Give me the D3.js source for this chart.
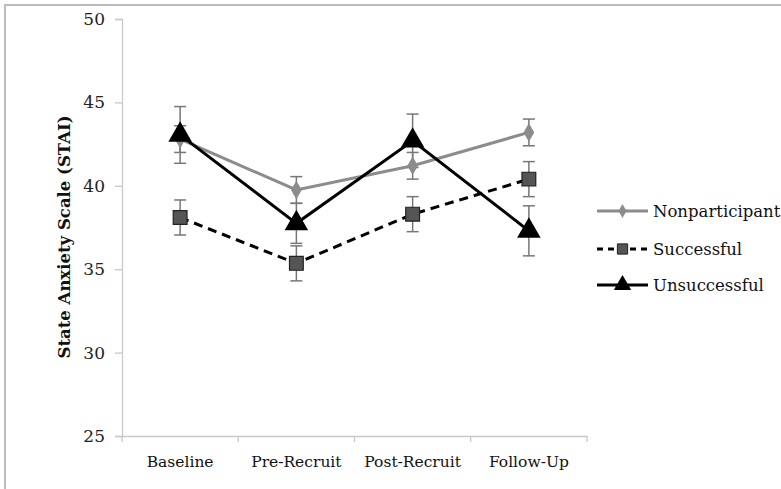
<!DOCTYPE html>
<html>
<head>
<meta charset="utf-8">
<script src="https://cdn.jsdelivr.net/npm/d3@7"></script>
<style>
  body { margin: 0; background: #fff; }
  text { font-family: "DejaVu Serif", "Liberation Serif", serif; }
</style>
</head>
<body>
<script>
// Datos
const categorias = ["Baseline", "Pre-Recruit", "Post-Recruit", "Follow-Up"];
const nonparticipant = [42.8, 39.75, 41.2, 43.2];
const nonparticipantErr = [0.8, 0.8, 0.8, 0.8];
const successful = [38.1, 35.35, 38.3, 40.4];
const successfulErr = [1.05, 1.05, 1.05, 1.05];
const unsuccessful = [43.05, 37.75, 42.7, 37.3];
const unsuccessfulErr = [1.7, 1.2, 1.6, 1.5];
const ticksY = [25, 30, 35, 40, 45, 50];

const series = [
  { name: "Nonparticipant", values: nonparticipant, err: nonparticipantErr, color: "#8c8c8c", dash: null, shape: d3.symbolDiamond, size: 100, fill: "#8c8c8c" },
  { name: "Successful", values: successful, err: successfulErr, color: "#000", dash: "9,6", shape: d3.symbolSquare, size: 190, fill: "#555" },
  { name: "Unsuccessful", values: unsuccessful, err: unsuccessfulErr, color: "#000", dash: null, shape: d3.symbolTriangle, size: 240, fill: "#000" }
];

const W = 781, H = 489;
const svg = d3.select("body").append("svg").attr("width", W).attr("height", H);

// marco
svg.append("path")
  .attr("d", `M5,${H} V5 H${W}`)
  .attr("fill", "none").attr("stroke", "#bbb").attr("stroke-width", 2);

const x = d3.scaleBand().domain(categorias).range([122, 587]);
const y = d3.scaleLinear().domain([25, 50]).range([436, 19]);

// eje Y
const yAxis = svg.append("g").attr("transform", "translate(122,0)")
  .call(d3.axisLeft(y).tickValues(ticksY).tickSize(7).tickPadding(10));
yAxis.select(".domain").attr("stroke", "#c8c8c8").attr("stroke-width", 1.3);
yAxis.selectAll(".tick line").attr("stroke", "#c8c8c8").attr("stroke-width", 1.3);
yAxis.selectAll(".tick text").attr("font-size", 17).attr("fill", "#222")
  .attr("font-family", "DejaVu Serif, serif");

// eje X
const xAxis = svg.append("g").attr("transform", "translate(0,436)")
  .call(d3.axisBottom(x).tickSize(0).tickPadding(20));
xAxis.select(".domain").attr("stroke", "#c8c8c8").attr("stroke-width", 1.3);
xAxis.selectAll(".tick text").attr("font-size", 15.5).attr("fill", "#111")
  .attr("font-family", "DejaVu Serif, serif");
// marcas entre categorías
const bordes = [...categorias.map(c => x(c)), x.range()[1]];
svg.append("g").selectAll("line").data(bordes).join("line")
  .attr("x1", d => d).attr("x2", d => d)
  .attr("y1", 436).attr("y2", 442)
  .attr("stroke", "#c8c8c8").attr("stroke-width", 1.3);

// título eje Y
svg.append("text")
  .attr("transform", "translate(70,237) rotate(-90)")
  .attr("text-anchor", "middle")
  .attr("font-size", 16.5).attr("font-weight", "bold").attr("fill", "#111")
  .text("State Anxiety Scale (STAI)");

const cx = c => x(c) + x.bandwidth() / 2;
const line = d3.line().x((d, i) => cx(categorias[i])).y(d => y(d));

series.forEach(s => {
  const g = svg.append("g");
  // barras de error
  const eb = g.selectAll(".err").data(s.values).join("g");
  eb.append("line")
    .attr("x1", (d, i) => cx(categorias[i])).attr("x2", (d, i) => cx(categorias[i]))
    .attr("y1", (d, i) => y(d + s.err[i])).attr("y2", (d, i) => y(d - s.err[i]))
    .attr("stroke", "#777").attr("stroke-width", 1.5);
  [1, -1].forEach(sg => {
    eb.append("line")
      .attr("x1", (d, i) => cx(categorias[i]) - 6).attr("x2", (d, i) => cx(categorias[i]) + 6)
      .attr("y1", (d, i) => y(d + sg * s.err[i])).attr("y2", (d, i) => y(d + sg * s.err[i]))
      .attr("stroke", "#777").attr("stroke-width", 1.5);
  });
});

series.forEach(s => {
  const g = svg.append("g");
  g.append("path").datum(s.values)
    .attr("d", line).attr("fill", "none")
    .attr("stroke", s.color).attr("stroke-width", 3)
    .attr("stroke-dasharray", s.dash);
  g.selectAll("path.m").data(s.values).join("path").attr("class", "m")
    .attr("transform", (d, i) => `translate(${cx(categorias[i])},${y(d)})`)
    .attr("d", d3.symbol().type(s.shape).size(s.size))
    .attr("fill", s.fill).attr("stroke", s.shape === d3.symbolSquare ? "#222" : "none")
    .attr("stroke-width", 1.2);
});

// leyenda
const legY = [211, 249, 285];
series.forEach((s, i) => {
  const g = svg.append("g").attr("transform", `translate(597,${legY[i]})`);
  g.append("line").attr("x1", 0).attr("x2", 51).attr("y1", 0).attr("y2", 0)
    .attr("stroke", s.color).attr("stroke-width", 3)
    .attr("stroke-dasharray", s.dash ? "6,5" : null);
  g.append("path").attr("transform", "translate(25.5,0)")
    .attr("d", d3.symbol().type(s.shape).size(s.size * 0.55))
    .attr("fill", s.fill).attr("stroke", s.shape === d3.symbolSquare ? "#222" : "none");
  g.append("text").attr("x", 56).attr("y", 6)
    .attr("font-size", 16.5).attr("fill", "#111")
    .text(s.name);
});
</script>
</body>
</html>
